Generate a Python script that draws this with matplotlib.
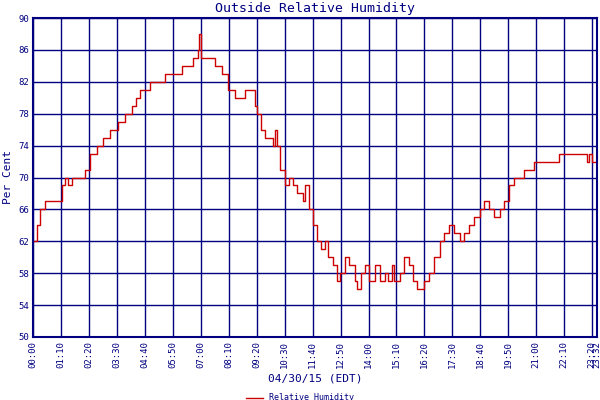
import matplotlib
matplotlib.use("Agg")
import matplotlib.pyplot as plt

minutes = [0,10,18,30,62,72,80,88,98,122,130,142,160,175,192,212,230,248,258,268,292,330,372,400,412,415,420,442,455,472,488,505,525,532,542,555,562,572,580,592,600,605,612,618,630,642,650,662,675,682,692,702,712,720,730,738,750,760,768,780,792,805,812,822,832,842,855,868,880,888,898,905,918,930,942,952,962,978,992,1005,1018,1030,1042,1055,1068,1080,1092,1105,1118,1130,1142,1155,1168,1180,1192,1205,1218,1230,1242,1255,1305,1318,1380,1388,1392,1400,1412]
humidity = [62,64,66,67,67,69,70,69,70,70,71,73,74,75,76,77,78,79,80,81,82,83,84,85,86,88,85,85,84,83,81,80,80,81,81,79,78,76,75,75,74,76,74,71,69,70,69,68,67,69,66,64,62,61,62,60,59,57,58,60,59,57,56,58,59,57,59,57,58,57,59,57,58,60,59,57,56,57,58,60,62,63,64,63,62,63,64,65,66,67,66,65,66,67,69,70,70,71,71,72,72,73,73,72,73,72,72]
tick_minutes = list(range(0, 1401, 70)) + [1412]
tick_labels = ["00:00","01:10","02:20","03:30","04:40","05:50","07:00","08:10","09:20","10:30","11:40","12:50","14:00","15:10","16:20","17:30","18:40","19:50","21:00","22:10","23:20","23:32"]
y_ticks = list(range(50, 91, 4))

navy = "#000080"
plt.rcParams['font.family'] = ['DejaVu Sans Mono']
fig = plt.figure(figsize=(6, 4), dpi=100)
ax = fig.add_axes([0.055, 0.1575, 0.94, 0.7975])
ax.plot(minutes, humidity, color="#cc0000", lw=1, drawstyle="steps-post", label="Relative Humidity")
ax.set_xlim(0, 1412)
ax.set_ylim(50, 90)
ax.set_xticks(tick_minutes)
ax.set_xticklabels(tick_labels, rotation=90, fontsize=6.5, color=navy)
ax.set_yticks(y_ticks)
ax.set_yticklabels([str(v) for v in y_ticks], fontsize=6.5, color=navy)
ax.tick_params(length=0, pad=3)
ax.grid(True, color=navy, lw=1)
for s in ax.spines.values():
    s.set_color(navy)
    s.set_linewidth(1.5)
ax.set_ylabel("Per Cent", color=navy, fontsize=8)
ax.set_xlabel("04/30/15 (EDT)", color=navy, fontsize=8, labelpad=4)
ax.set_title("Outside Relative Humidity", color=navy, fontsize=9.5, pad=4)
fig.legend(loc="lower center", bbox_to_anchor=(0.5, -0.025), frameon=False, fontsize=6, labelcolor=navy, handlelength=2)
fig.savefig("out.png", dpi=100)
